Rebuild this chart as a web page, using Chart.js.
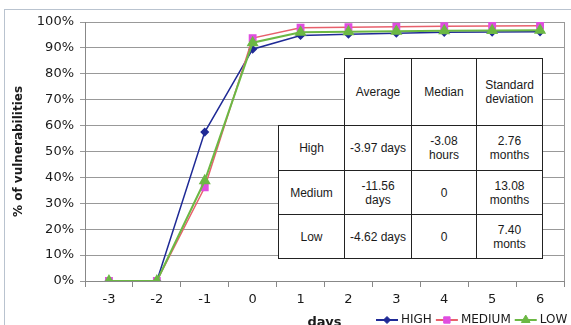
<!DOCTYPE html>
<html>
<head>
<meta charset="utf-8">
<script src="https://cdn.jsdelivr.net/npm/chart.js@4.4.0/dist/chart.umd.min.js"></script>
<style>
    body { margin: 0; background: #fff; overflow: hidden; }
    #wrap { position: relative; width: 571px; height: 325px; overflow: hidden; background: #fff; }
    #rahmen { position: absolute; left: 4px; top: 9px; width: 700px; height: 400px; border: 1px solid #b9c3cf; }
    #chart { position: absolute; left: 0; top: 0; }
    .zelle {
        position: absolute; box-sizing: border-box; border: 1px solid #222; background: #fff;
        display: flex; align-items: center; justify-content: center; text-align: center;
        font-family: "Liberation Sans", Arial, sans-serif; font-size: 12px; line-height: 14px; color: #1a1a1a;
    }
</style>
</head>
<body>
<div id="wrap">
    <div id="rahmen"></div>
    <canvas id="chart" width="571" height="330"></canvas>
    <div id="tabelle"></div>
</div>
<script>
// --- Daten ---
const tage = ["-3", "-2", "-1", "0", "1", "2", "3", "4", "5", "6"];
const high = [0, 0, 57.5, 89.5, 94.8, 95.3, 95.7, 96.0, 96.1, 96.2];
const medium = [0, 0, 36.2, 93.8, 97.8, 98.0, 98.2, 98.4, 98.5, 98.6];
const low = [0, 0, 38.7, 92.0, 96.0, 96.2, 96.4, 96.6, 96.7, 96.8];

const tabelleKopf = ["", "Average", "Median", "Standard<br>deviation"];
const tabelleZeilen = [
    ["High", "-3.97 days", "-3.08<br>hours", "2.76<br>months"],
    ["Medium", "-11.56<br>days", "0", "13.08<br>months"],
    ["Low", "-4.62 days", "0", "7.40<br>monts"]
];

Chart.defaults.font.family = '"DejaVu Sans", Verdana, sans-serif';
Chart.defaults.color = "#1a1a1a";

// --- Rahmen rechts am Diagramm ---
const rahmenPlugin = {
    id: "rahmen",
    beforeDatasetsDraw(chart) {
        const { ctx, chartArea } = chart;
        ctx.save();
        ctx.strokeStyle = "#999";
        ctx.lineWidth = 1;
        ctx.beginPath();
        ctx.moveTo(Math.round(chartArea.right) + 0.5, chartArea.top);
        ctx.lineTo(Math.round(chartArea.right) + 0.5, chartArea.bottom);
        ctx.stroke();
        ctx.restore();
    }
};

// --- Legende unten rechts ---
const legendePlugin = {
    id: "legende",
    afterDraw(chart) {
        const c = chart.ctx;
        let x = 376;
        const y = 320;
        c.save();
        c.font = '12px "DejaVu Sans", Verdana, sans-serif';
        c.textBaseline = "middle";
        chart.data.datasets.forEach(ds => {
            c.strokeStyle = ds.borderColor;
            c.lineWidth = 2;
            c.beginPath();
            c.moveTo(x, y);
            c.lineTo(x + 22, y);
            c.stroke();
            c.fillStyle = ds.pointBackgroundColor;
            c.strokeStyle = ds.pointBorderColor;
            c.lineWidth = 1;
            Chart.helpers.drawPoint(c, { pointStyle: ds.pointStyle, radius: ds.pointRadius, borderWidth: 1, rotation: 0 }, x + 11, y);
            c.fillStyle = "#1a1a1a";
            c.fillText(ds.label, x + 25, y);
            x += 25 + c.measureText(ds.label).width + 4;
        });
        c.restore();
    }
};

const ctx = document.getElementById("chart").getContext("2d");

new Chart(ctx, {
    type: "line",
    data: {
        labels: tage,
        datasets: [
            {
                label: "HIGH", data: high, order: 2,
                borderColor: "#1f2a96", borderWidth: 1.5,
                pointStyle: "rectRot", pointRadius: 3.5,
                pointBackgroundColor: "#1f2a96", pointBorderColor: "#1f2a96"
            },
            {
                label: "MEDIUM", data: medium, order: 1,
                borderColor: "#e8606c", borderWidth: 1.5,
                pointStyle: "rect", pointRadius: 4.5,
                pointBackgroundColor: "#e04ee0", pointBorderColor: "#e04ee0"
            },
            {
                label: "LOW", data: low, order: 0,
                borderColor: "#6cb844", borderWidth: 2,
                pointStyle: "triangle", pointRadius: 5,
                pointBackgroundColor: "#6cb844", pointBorderColor: "#6cb844"
            }
        ]
    },
    options: {
        responsive: false,
        animation: false,
        layout: { padding: { left: 0, top: 22, right: 6, bottom: 0 } },
        plugins: { legend: { display: false }, tooltip: { enabled: false } },
        scales: {
            x: {
                offset: true,
                grid: { drawOnChartArea: false, offset: true, tickLength: 6, color: "#888" },
                border: { color: "#888" },
                ticks: { padding: 5, font: { size: 13 } },
                title: { display: true, text: "days", padding: 0, font: { size: 13, weight: "bold" } },
                afterFit: s => { s.height = 49; }
            },
            y: {
                min: 0, max: 100,
                grid: { color: "#999", tickLength: 5 },
                border: { color: "#888" },
                ticks: { stepSize: 10, padding: 6, font: { size: 13 }, callback: v => v + "%" },
                title: { display: true, text: "% of vulnerabilities", padding: { top: 12 }, font: { size: 12, weight: "bold" } },
                afterFit: s => { s.width = 85; }
            }
        }
    },
    plugins: [rahmenPlugin, legendePlugin]
});

// --- Tabelle ---
const spaltenX = [278, 344, 411, 476, 542];
const zeilenY = [58, 125, 170, 214, 258];
const tabelle = document.getElementById("tabelle");
[tabelleKopf, ...tabelleZeilen].forEach((zeile, r) => {
    zeile.forEach((text, s) => {
        if (r === 0 && s === 0) return;
        const div = document.createElement("div");
        div.className = "zelle";
        div.style.left = spaltenX[s] + "px";
        div.style.top = zeilenY[r] + "px";
        div.style.width = (spaltenX[s + 1] - spaltenX[s] + 1) + "px";
        div.style.height = (zeilenY[r + 1] - zeilenY[r] + 1) + "px";
        div.innerHTML = text;
        tabelle.appendChild(div);
    });
});
</script>
</body>
</html>
